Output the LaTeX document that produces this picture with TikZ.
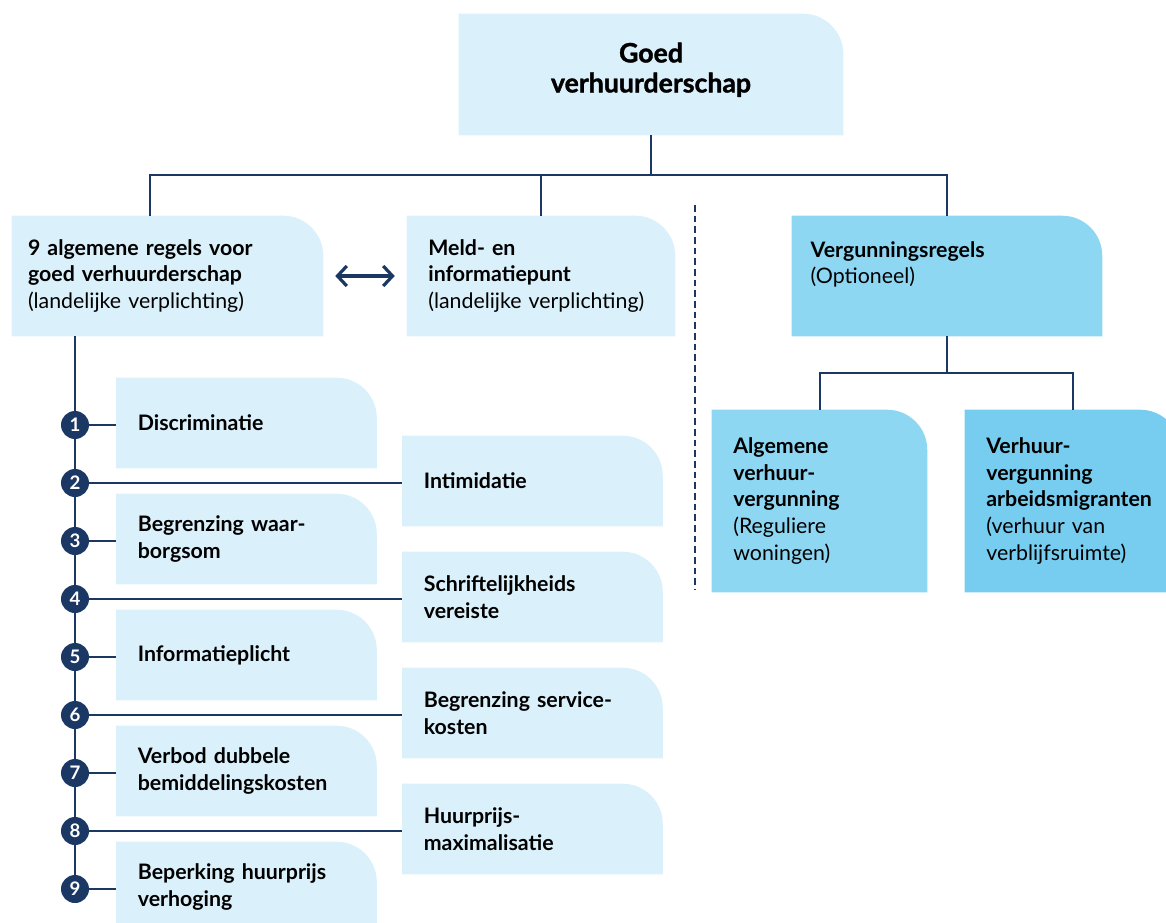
\documentclass[tikz,border=0pt]{standalone}
\usepackage{fontspec}
\setmainfont{Lato}
\newfontfamily\heavyfont{Lato}[BoldFeatures={FakeBold=1.4}]
\usetikzlibrary{arrows.meta,backgrounds,calc}

\definecolor{navy}{RGB}{27,55,99}
\definecolor{paleblue}{RGB}{218,240,250}
\definecolor{midblue}{RGB}{142,215,243}
\definecolor{deepblue}{RGB}{118,205,240}

\tikzset{
  link/.style={navy, line width=1.5pt},
  card/.style={inner xsep=16pt, inner ysep=0pt, align=left, font=\fontsize{16}{20}\selectfont},
  ruletab/.style={card, text width=163pt, minimum height=67.5pt, font=\fontsize{16}{20}\selectfont\bfseries},
  num/.style={circle, fill=navy, text=white, inner sep=0pt, minimum size=21pt, font=\fontsize{14}{14}\selectfont\bfseries},
}

\begin{document}
\begin{tikzpicture}[x=0.75pt,y=0.75pt,yscale=-1,xscale=1]
    \useasboundingbox (0,0) rectangle (1166,923);

    % Text Node
    \node[card, align=center, inner xsep=15pt, text width=258pt, minimum height=90.75pt, font=\fontsize{20}{22.5}\selectfont\heavyfont\bfseries] (top) at (651,74.5) {Goed\hspace*{12pt}\\verhuurderschap\\[-12pt]\mbox{}};
    % Text Node
    \node[card, inner xsep=12pt, text width=209.25pt, minimum height=90pt] (rules) at (167.5,276) {\textbf{9 algemene regels voor}\\\textbf{goed verhuurderschap}\\(landelijke verplichting)};
    % Text Node
    \node[card, text width=169pt, minimum height=90pt] (meld) at (541,276) {\textbf{Meld- en}\\\textbf{informatiepunt}\\(landelijke verplichting)};
    % Text Node
    \node[card, inner xsep=14pt, text width=204.5pt, minimum height=90pt] (verg) at (947,276) {\textbf{Vergunningsregels}\\(Optioneel)\\\mbox{}};
    % Text Node
    \node[card, text width=129.25pt, minimum height=136.5pt] (alg) at (819.5,501) {\textbf{Algemene}\\\textbf{verhuur-}\\\textbf{vergunning}\\(Reguliere\\woningen)};
    % Text Node
    \node[card, text width=129.25pt, minimum height=136.5pt] (vhr) at (1072.5,501) {\textbf{Verhuur-}\\\textbf{vergunning}\\\textbf{arbeidsmigranten}\\(verhuur van\\verblijfsruimte)};

    % numbered rules
    \foreach \i/\txt in {1/Discriminatie, 2/Intimidatie, 3/{Begrenzing waar-\\borgsom}, 4/{Schriftelijkheids\\vereiste}, 5/Informatieplicht, 6/{Begrenzing service-\\kosten}, 7/{Verbod dubbele\\bemiddelingskosten}, 8/{Huurprijs-\\maximalisatie}, 9/{Beperking huurprijs\\verhoging}} {
      \pgfmathsetmacro\yy{425+58*(\i-1)}
      \pgfmathsetmacro\xx{isodd(\i) ? 246.5 : 532.5}
      \node[num] (n\i) at (75,\yy) {\i};
      \node[ruletab] (b\i) at (\xx,\yy-2) {\txt};
    }

    % box fills, one rounded corner
    \begin{scope}[on background layer]
      \foreach \n/\c in {top/paleblue, rules/paleblue, meld/paleblue, verg/midblue, alg/midblue, vhr/deepblue, b1/paleblue, b2/paleblue, b3/paleblue, b4/paleblue, b5/paleblue, b6/paleblue, b7/paleblue, b8/paleblue, b9/paleblue}
        \fill[\c] (\n.south west) -- (\n.north west) -- ($(\n.north east)+(-40,0)$) .. controls ($(\n.north east)+(-18,0)$) and ($(\n.north east)+(0,18)$) .. ($(\n.north east)+(0,40)$) -- (\n.south east) -- cycle;
    \end{scope}

    % tree
    \draw[link] (top.south) -- ++(0,40) coordinate (bus);
    \draw[link] ([xshift=-13pt]rules.north) |- (bus) -| (meld.north);
    \draw[link] (bus) -| (verg.north);
    \draw[link] (verg.south) -- ++(0,37) coordinate (fork);
    \draw[link] (alg.north) |- (fork) -| (vhr.north);

    % double arrow
    \draw[navy, line width=2.4pt, {Straight Barb[length=7pt,width=15pt]}-{Straight Barb[length=7pt,width=15pt]}, shorten <=9pt, shorten >=9pt] (rules.east) -- (meld.west);

    % separator
    \coordinate (septop) at (695,205);
    \coordinate (sepbot) at (695,590);
    \draw[navy, line width=1.5pt, dash pattern=on 5pt off 3pt] (septop) -- (sepbot);

    % left spine
    \draw[link] (rules.south -| n1) -- (n1);
    \foreach \i [count=\j from 2] in {1,...,8}
      \draw[link] (n\i) -- (n\j);
    \foreach \i in {1,...,9}
      \draw[link] (n\i) -- (n\i -| b\i.west);

\end{tikzpicture}
\end{document}
